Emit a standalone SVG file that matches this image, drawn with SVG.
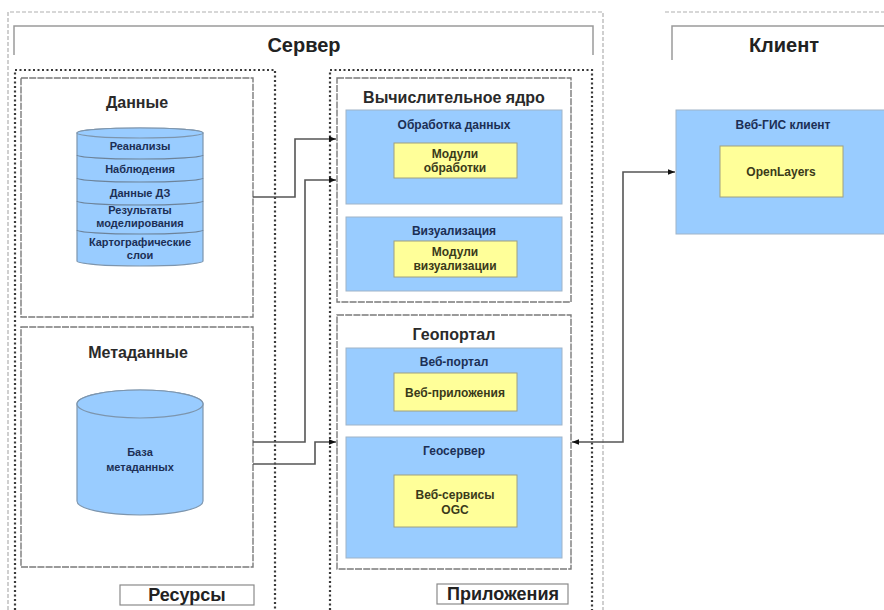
<svg xmlns="http://www.w3.org/2000/svg" width="884" height="610" viewBox="0 0 884 610">
<defs>
<style>
.outer{fill:none;stroke:#b0b0b0;stroke-width:1.2;stroke-dasharray:4 2}
.hdr{fill:none;stroke:#9a9a9a;stroke-width:1.5}
.dot{fill:none;stroke:#3a3a3a;stroke-width:2.2;stroke-dasharray:2 2.5}
.box{fill:#fff;stroke:#7a7a7a;stroke-width:1.4;stroke-dasharray:7 1.2}
.blue{fill:#99ccff;stroke:#9fb4c8;stroke-width:1}
.yel{fill:#ffff99;stroke:#a0a080;stroke-width:1}
.cyl{fill:#99ccff;stroke:#7d95ad;stroke-width:1.2}
.sep{fill:none;stroke:#6d839a;stroke-width:1.2}
.lbl{fill:#fff;stroke:#8a8a8a;stroke-width:1.2}
.t{font-family:"Liberation Sans",Arial,sans-serif;font-weight:bold;text-anchor:middle}
.h1{font-size:20px;fill:#222}
.h2{font-size:16px;fill:#2a2a2a}
.h3{font-size:18px;fill:#222}
.bl{font-size:12px;fill:#1c2f55}
.yl{font-size:12px;fill:#3a3a1a}
.cl{font-size:11px;fill:#1c2f55}
.con{fill:none;stroke:#555;stroke-width:1.6}
</style>
<marker id="arr" viewBox="0 0 10 10" refX="10" refY="5" markerWidth="7" markerHeight="7" orient="auto-start-reverse" markerUnits="userSpaceOnUse">
<path d="M0,1 L10,5 L0,9 z" fill="#111"/>
</marker>
</defs>
<rect width="884" height="610" fill="#fff"/>

<g id="server">
<path class="outer" d="M8,610 V12 H603 V610"/>
<path class="hdr" d="M14,55 V26 H593 V55"/>
<text class="t h1" x="304" y="52">Сервер</text>
</g>

<g id="client">
<path class="outer" d="M665,12 H884"/>
<path class="hdr" d="M672,60 V26 H884"/>
<text class="t h1" x="784" y="52">Клиент</text>
</g>

<g id="resources">
<path class="dot" d="M15,610 V70 H275 V610"/>
<rect class="lbl" x="120" y="585" width="134" height="20"/>
<text class="t h3" x="187" y="601">Ресурсы</text>
</g>

<g id="applications">
<path class="dot" d="M330,610 V70 H592 V610"/>
<rect class="lbl" x="437" y="584" width="131" height="20"/>
<text class="t h3" x="503" y="600">Приложения</text>
</g>

<g id="data">
<rect class="box" x="21" y="78" width="232" height="239"/>
<text class="t h2" x="137" y="108">Данные</text>
<path class="cyl" d="M77,133 V261 A63,5 0 0 0 203,261 V133 A63,5 0 0 0 77,133 Z"/>
<ellipse class="cyl" cx="140" cy="133" rx="63" ry="5"/>
<path class="sep" d="M77,155 A63,4 0 0 0 203,155"/>
<path class="sep" d="M77,178 A63,4 0 0 0 203,178"/>
<path class="sep" d="M77,201 A63,4 0 0 0 203,201"/>
<path class="sep" d="M77,230 A63,4 0 0 0 203,230"/>
<text class="t cl" x="140" y="150">Реанализы</text>
<text class="t cl" x="140" y="173">Наблюдения</text>
<text class="t cl" x="140" y="197">Данные ДЗ</text>
<text class="t cl" x="140" y="214">Результаты</text>
<text class="t cl" x="140" y="227">моделирования</text>
<text class="t cl" x="140" y="246">Картографические</text>
<text class="t cl" x="140" y="259">слои</text>
</g>

<g id="metadata">
<rect class="box" x="21" y="327" width="232" height="240"/>
<text class="t h2" x="138" y="358">Метаданные</text>
<path class="cyl" d="M77,404 V501 A63,14 0 0 0 203,501 V404 A63,14 0 0 0 77,404 Z"/>
<ellipse class="cyl" cx="140" cy="404" rx="63" ry="14"/>
<text class="t cl" x="140" y="456">База</text>
<text class="t cl" x="140" y="471">метаданных</text>
</g>

<g id="core">
<rect class="box" x="337" y="78" width="234" height="224"/>
<text class="t h2" x="454" y="103">Вычислительное ядро</text>
</g>

<g id="processing">
<rect class="blue" x="346" y="110" width="216" height="94"/>
<text class="t bl" x="454" y="129">Обработка данных</text>
<rect class="yel" x="394" y="143" width="123" height="35"/>
<text class="t yl" x="455" y="158">Модули</text>
<text class="t yl" x="455" y="172">обработки</text>
</g>

<g id="visualization">
<rect class="blue" x="346" y="217" width="216" height="74"/>
<text class="t bl" x="454" y="235">Визуализация</text>
<rect class="yel" x="394" y="241" width="123" height="36"/>
<text class="t yl" x="455" y="256">Модули</text>
<text class="t yl" x="455" y="270">визуализации</text>
</g>

<g id="geoportal">
<rect class="box" x="337" y="315" width="234" height="254"/>
<text class="t h2" x="454" y="340">Геопортал</text>
</g>

<g id="webportal">
<rect class="blue" x="346" y="348" width="216" height="77"/>
<text class="t bl" x="454" y="366">Веб-портал</text>
<rect class="yel" x="394" y="373" width="123" height="38"/>
<text class="t yl" x="455" y="397">Веб-приложения</text>
</g>

<g id="geoserver">
<rect class="blue" x="346" y="437" width="216" height="121"/>
<text class="t bl" x="454" y="455">Геосервер</text>
<rect class="yel" x="394" y="475" width="123" height="52"/>
<text class="t yl" x="455" y="499">Веб-сервисы</text>
<text class="t yl" x="455" y="514">OGC</text>
</g>

<g id="webgis">
<rect class="blue" x="676" y="110" width="215" height="124"/>
<text class="t bl" x="783" y="129">Веб-ГИС клиент</text>
<rect class="yel" x="720" y="146" width="123" height="51"/>
<text class="t yl" x="781" y="176">OpenLayers</text>
</g>

<g id="connectors">
<path class="con" d="M253,197 H295 V139 H336" marker-end="url(#arr)"/>
<path class="con" d="M253,442 H305 V180 H336" marker-end="url(#arr)"/>
<path class="con" d="M253,464 H315 V442 H336" marker-end="url(#arr)"/>
<path class="con" d="M572,442 H623 V172 H675" marker-start="url(#arr)" marker-end="url(#arr)"/>
</g>
</svg>
